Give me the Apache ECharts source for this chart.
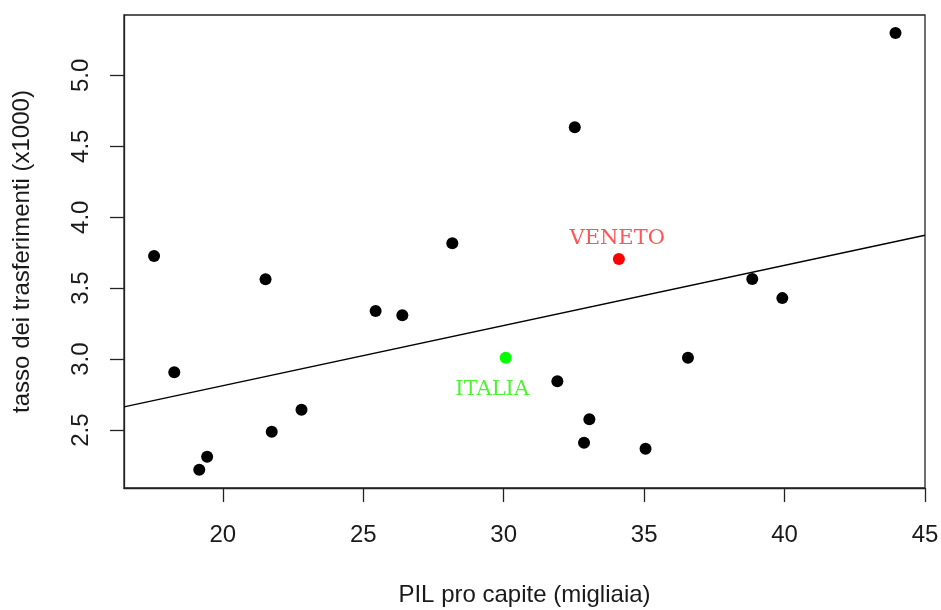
<!DOCTYPE html>
<html>
<head>
<meta charset="utf-8">
<script src="https://cdn.jsdelivr.net/npm/echarts@6/dist/echarts.min.js"></script>
<style>
html,body{margin:0;padding:0;background:#fff;}
#chart{width:941px;height:610px;}
</style>
</head>
<body>
<div id="chart"></div>
<script>
// Regions (black points)
var pilRegioni = [17.55, 21.52, 18.27, 19.16, 19.44, 21.74, 22.80, 25.44, 26.39, 31.91, 33.05, 32.86, 35.05, 36.56, 38.85, 39.92, 43.95, 28.17, 32.53];
var tassoRegioni = [3.727, 3.563, 2.908, 2.220, 2.312, 2.488, 2.643, 3.340, 3.310, 2.845, 2.577, 2.411, 2.368, 3.009, 3.564, 3.430, 5.298, 3.817, 4.634];
// Highlighted
var veneto = [34.10, 3.706];
var italia = [30.07, 3.009];
// Label anchors
var labelNames = ['VENETO', 'ITALIA'];
var labelX = [34.04, 29.59];
var labelY = [3.848, 2.783];
// Regression line endpoints
var lineX = [16.48, 45];
var lineY = [2.664, 3.873];
// Axes
var xTicks = [20, 25, 30, 35, 40, 45];
var yTicks = [2.5, 3.0, 3.5, 4.0, 4.5, 5.0];
var xRange = [16.48, 45];
var yRange = [2.092, 5.425];

var chart = echarts.init(document.getElementById('chart'));
var axisFont = 'Liberation Sans, Arial, sans-serif';
var axisColor = '#222';
var textColor = '#1a1a1a';

var blackData = pilRegioni.map(function (x, i) { return [x, tassoRegioni[i]]; });
var lineData = lineX.map(function (x, i) { return [x, lineY[i]]; });
var labelColors = ['#ff2a2a', '#22ee00'];
var labelData = labelNames.map(function (n, i) {
  return { name: n, value: [labelX[i], labelY[i]], label: { color: labelColors[i] } };
});

chart.setOption({
  animation: false,
  grid: { left: 124, right: 16, top: 15, bottom: 122, outerBoundsMode: 'none', containLabel: false,
    show: true, borderColor: axisColor, borderWidth: 1.3, backgroundColor: 'transparent' },
  xAxis: {
    type: 'value', min: xRange[0], max: xRange[1],
    name: 'PIL pro capite (migliaia)', nameLocation: 'middle', nameGap: 95,
    nameTextStyle: { fontFamily: axisFont, fontSize: 24, color: textColor },
    axisLine: { show: true, lineStyle: { color: axisColor, width: 1.3 } },
    axisTick: { show: true, length: 14, customValues: xTicks, lineStyle: { color: axisColor, width: 1.3 } },
    axisLabel: { customValues: xTicks, fontFamily: axisFont, fontSize: 24, color: textColor, margin: 35 },
    splitLine: { show: false }
  },
  yAxis: {
    type: 'value', min: yRange[0], max: yRange[1],
    name: 'tasso dei trasferimenti (x1000)', nameLocation: 'middle', nameGap: 90,
    nameTextStyle: { fontFamily: axisFont, fontSize: 24, color: textColor },
    axisLine: { show: true, lineStyle: { color: axisColor, width: 1.3 } },
    axisTick: { show: true, length: 14, customValues: yTicks, lineStyle: { color: axisColor, width: 1.3 } },
    axisLabel: { customValues: yTicks, rotate: 90, fontFamily: axisFont, fontSize: 24, color: textColor, margin: 31,
      formatter: function (v) { return v.toFixed(1); } },
    splitLine: { show: false }
  },
  series: [
    {
      type: 'line', data: lineData, showSymbol: false, symbol: 'none',
      lineStyle: { color: '#000', width: 1.4 }, z: 1, silent: true
    },
    {
      type: 'scatter', data: blackData, symbol: 'circle', symbolSize: 12,
      itemStyle: { color: '#000', opacity: 1 }, z: 3
    },
    {
      type: 'scatter', data: [veneto], symbol: 'circle', symbolSize: 12,
      itemStyle: { color: '#ff0000', opacity: 1 }, z: 3
    },
    {
      type: 'scatter', data: [italia], symbol: 'circle', symbolSize: 12,
      itemStyle: { color: '#00ff00', opacity: 1 }, z: 3
    },
    {
      type: 'scatter', data: labelData, symbolSize: 0, z: 4,
      label: {
        show: true, position: 'inside', formatter: '{b}',
        fontFamily: 'DejaVu Serif, serif', fontSize: 21
      },
      itemStyle: { color: 'transparent' }
    }
  ]
});
</script>
</body>
</html>
